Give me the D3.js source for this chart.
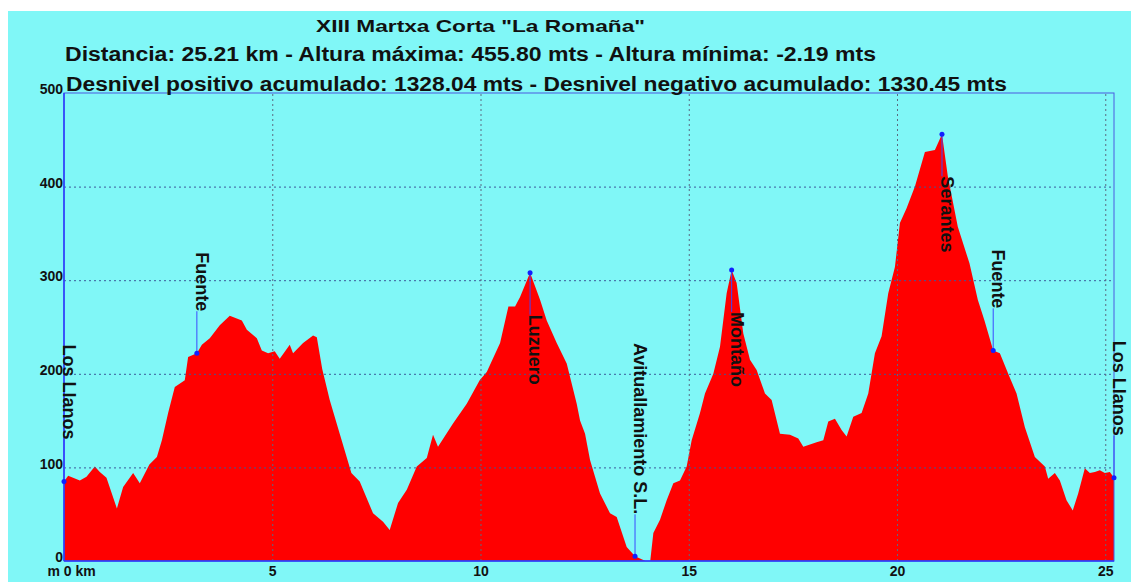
<!DOCTYPE html>
<html>
<head>
<meta charset="utf-8">
<script src="https://cdn.jsdelivr.net/npm/d3@7/dist/d3.min.js"></script>
<style>
  html, body { margin: 0; padding: 0; background: #ffffff; }
  svg { display: block; }
  text { font-family: "Liberation Sans", Arial, sans-serif; font-weight: bold; fill: #111; }
</style>
</head>
<body>
<svg id="chart" width="1131" height="582"></svg>
<script>
// ---------------- DATA ----------------
const titleLines = [
  'XIII Martxa Corta "La Romaña"',
  'Distancia: 25.21 km - Altura máxima: 455.80 mts - Altura mínima: -2.19 mts',
  'Desnivel positivo acumulado: 1328.04 mts - Desnivel negativo acumulado: 1330.45 mts'
];

const distKm = [
  0, 0.10, 0.38, 0.54, 0.74, 0.86, 1.02, 1.27, 1.42, 1.66, 1.82, 2.05, 2.23, 2.35, 2.50, 2.66,
  2.90, 2.98, 3.19, 3.31, 3.50, 3.74, 3.98, 4.27, 4.39, 4.63, 4.75, 4.90, 5.06, 5.18, 5.42, 5.50,
  5.74, 5.98, 6.07, 6.20, 6.38, 6.62, 6.90, 7.10, 7.42, 7.66, 7.82, 8.02, 8.23, 8.47, 8.71, 8.86,
  8.98, 9.34, 9.67, 9.98, 10.15, 10.47, 10.67, 10.83, 10.95, 11.19, 11.43, 11.59, 11.83, 12.07, 12.31, 12.39,
  12.51, 12.63, 12.87, 13.11, 13.27, 13.51, 13.71, 13.91, 14.07, 14.15, 14.31, 14.47, 14.63, 14.79, 14.95, 15.07,
  15.27, 15.39, 15.59, 15.75, 15.91, 16.03, 16.15, 16.31, 16.47, 16.63, 16.83, 16.99, 17.19, 17.43, 17.63, 17.75,
  18.07, 18.23, 18.35, 18.51, 18.67, 18.79, 18.95, 19.15, 19.31, 19.47, 19.63, 19.79, 19.95, 20.07, 20.23, 20.43,
  20.67, 20.91, 21.08, 21.22, 21.46, 21.74, 21.94, 22.10, 22.31, 22.47, 22.67, 22.87, 23.07, 23.31, 23.55, 23.63,
  23.79, 23.91, 24.07, 24.22, 24.35, 24.51, 24.63, 24.75, 24.87, 24.99, 25.11, 25.21
];
const elevM = [
  85, 91, 86, 90, 101, 95, 89, 56, 79, 94, 83, 103, 111, 129, 158, 186,
  193, 218, 222, 231, 238, 252, 262, 257, 247, 238, 225, 222, 224, 216, 231, 222,
  233, 241, 239, 205, 172, 136, 94, 85, 51, 42, 33, 62, 76, 101, 110, 135,
  122, 147, 168, 193, 202, 233, 272, 272, 282, 308, 279, 257, 233, 211, 168, 150,
  136, 108, 72, 51, 47, 15, 5, 1, -2, 30, 44, 65, 83, 86, 101, 129,
  158, 179, 200, 229, 286, 311, 297, 243, 215, 204, 179, 172, 136, 135, 131, 122,
  127, 129, 149, 152, 140, 133, 154, 158, 179, 222, 240, 286, 314, 361, 377, 400,
  437, 439, 455.8, 411, 357, 318, 279, 257, 225, 222, 200, 179, 143, 111, 101, 88,
  94, 86, 65, 54, 72, 99, 94, 95, 97, 94, 95, 89
];

const waypointNames = ["Los Llanos", "Fuente", "Luzuero", "Avituallamiento S.L.", "Montaño", "Serantes", "Fuente", "Los Llanos"];
const waypointKm    = [0, 3.19, 11.19, 13.71, 16.03, 21.08, 22.31, 25.21];
const waypointElev  = [85, 222, 308, 5, 311, 455.8, 225, 89];

const yTicks = [0, 100, 200, 300, 400, 500];
const xTicks = [0, 5, 10, 15, 20, 25];
const xTickLabels = ["m 0 km", "5", "10", "15", "20", "25"];
const totalKm = 25.21;

// ---------------- LAYOUT ----------------
const svg = d3.select("#chart");
const L = 64, R = 1114, T = 93, B = 561;

svg.append("rect").attr("x", 0).attr("y", 0).attr("width", 1131).attr("height", 582).attr("fill", "#ffffff");
svg.append("rect").attr("x", 8).attr("y", 11).attr("width", 1123).attr("height", 571).attr("fill", "#80f7f7");

const x = d3.scaleLinear().domain([0, totalKm]).range([L, R]);
const y = d3.scaleLinear().domain([0, 500]).range([B, T]);

svg.append("defs").append("clipPath").attr("id", "plotClip")
  .append("rect").attr("x", L).attr("y", T).attr("width", R - L).attr("height", B - T);

// area
const profile = distKm.map((d, i) => ({ km: d, e: elevM[i] }));
const area = d3.area().x(d => x(d.km)).y0(y(0)).y1(d => y(d.e)).curve(d3.curveLinear);
svg.append("path").datum(profile).attr("d", area).attr("fill", "#ff0000")
  .attr("clip-path", "url(#plotClip)");

// gridlines
const hGrid = d3.axisLeft(y).tickValues(yTicks.filter(v => v > 0 && v < 500)).tickSize(-(R - L)).tickFormat("");
svg.append("g").attr("transform", `translate(${L},0)`).call(hGrid)
  .call(g => g.select(".domain").remove())
  .call(g => g.selectAll("line").attr("stroke", "#3a5a9a").attr("stroke-dasharray", "2,3").attr("stroke-width", 1));

const vGrid = d3.axisBottom(x).tickValues(xTicks.filter(v => v > 0)).tickSize(-(B - T)).tickFormat("");
svg.append("g").attr("transform", `translate(0,${B})`).call(vGrid)
  .call(g => g.select(".domain").remove())
  .call(g => g.selectAll("line").attr("stroke", "#5a6a80").attr("stroke-dasharray", "2,3").attr("stroke-width", 1));

// frame
svg.append("rect").attr("x", L).attr("y", T).attr("width", R - L).attr("height", B - T)
  .attr("fill", "none").attr("stroke", "#4a5ae0").attr("stroke-width", 1);
svg.append("line").attr("x1", L).attr("x2", L).attr("y1", T).attr("y2", B).attr("stroke", "#2a3aff").attr("stroke-width", 1.5);
svg.append("line").attr("x1", L).attr("x2", R).attr("y1", B).attr("y2", B).attr("stroke", "#2a3aff").attr("stroke-width", 1.5);

// y axis labels
const yAxis = d3.axisLeft(y).tickValues(yTicks).tickSize(0).tickPadding(0).tickFormat(d => d);
svg.append("g").attr("transform", `translate(${L - 1},0)`).call(yAxis)
  .call(g => g.select(".domain").remove())
  .call(g => g.selectAll("text")
    .attr("dy", "0.05em").attr("font-size", 14).attr("font-family", '"Liberation Sans", Arial, sans-serif')
    .attr("font-weight", "bold").attr("fill", "#111").attr("text-anchor", "end"));

// x axis labels
const xAxis = d3.axisBottom(x).tickValues(xTicks).tickSize(0).tickPadding(0)
  .tickFormat((d, i) => xTickLabels[i]);
svg.append("g").attr("transform", `translate(0,${B})`).call(xAxis)
  .call(g => g.select(".domain").remove())
  .call(g => g.selectAll("text")
    .attr("y", 15).attr("dy", 0).attr("font-size", 14).attr("font-family", '"Liberation Sans", Arial, sans-serif')
    .attr("font-weight", "bold").attr("fill", "#111"))
  .call(g => g.selectAll(".tick").filter(d => d === 0).select("text").attr("text-anchor", "start").attr("x", -17));

// titles
const titleSpecs = [
  { x0: 316, x1: 645, base: 31.5, size: 17 },
  { x0: 65, x1: 876, base: 61, size: 20 },
  { x0: 66, x1: 1007, base: 90.5, size: 20 }
];
titleLines.forEach((t, i) => {
  const s = titleSpecs[i];
  svg.append("text").attr("x", s.x0).attr("y", s.base).attr("font-size", s.size)
    .attr("textLength", s.x1 - s.x0).attr("lengthAdjust", "spacingAndGlyphs").text(t);
});

// waypoints
const gap = 42;
waypointNames.forEach((name, i) => {
  const px = x(waypointKm[i]);
  const py = y(waypointElev[i]);
  const below = waypointElev[i] > 280;
  const g = svg.append("g");
  const txt = g.append("text").attr("font-size", 18).text(name);
  const len = txt.node().getComputedTextLength();
  let lineEnd, textStart;
  if (below) { lineEnd = py + gap; textStart = py + gap; }
  else { lineEnd = py - gap; textStart = py - gap - len; }
  txt.attr("transform", `translate(${px - 1},${textStart}) rotate(90)`);
  g.insert("line", "text").attr("x1", px).attr("x2", px).attr("y1", py).attr("y2", lineEnd)
    .attr("stroke", "#3a4aff").attr("stroke-width", 1);
  g.append("circle").attr("cx", px).attr("cy", py).attr("r", 2.5).attr("fill", "#1020ff");
});
</script>
</body>
</html>
